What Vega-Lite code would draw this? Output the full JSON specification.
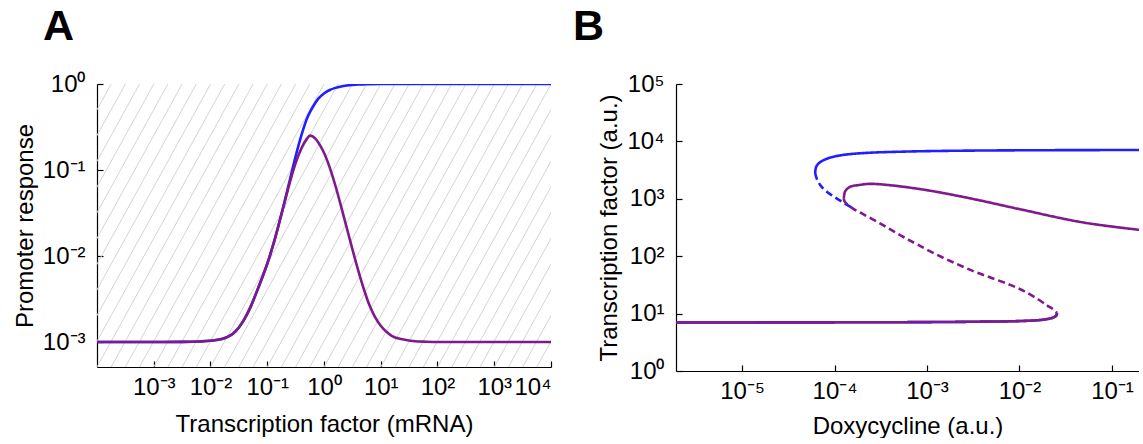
{
  "$schema": "https://vega.github.io/schema/vega-lite/v6.json",
  "background": "white",
  "padding": {"left": 13, "top": 6, "right": 0, "bottom": 0},
  "bounds": "flush",
  "spacing": 125,
  "config": {
    "view": {"stroke": null},
    "font": "Liberation Sans",
    "axis": {
      "grid": false,
      "domainColor": "#000000",
      "domainWidth": 1.2,
      "tickColor": "#000000",
      "tickWidth": 1.2,
      "tickSize": -6,
      "labelColor": "#000000",
      "labelFont": "Liberation Sans",
      "labelFontSize": 24,
      "titleColor": "#000000",
      "titleFont": "Liberation Sans",
      "titleFontSize": 24,
      "titleFontWeight": "normal"
    },
    "axisX": {"labelPadding": 14, "titlePadding": 13},
    "axisY": {"labelPadding": 18, "titlePadding": 5},
    "title": {"font": "Liberation Sans", "fontSize": 43, "fontWeight": "bold", "anchor": "start", "frame": "group", "color": "#000000"}
  },
  "datasets": {
    "hatch": [
      {"lo": 3.162e-7, "hi": 1.778e-4}, {"lo": 5.623e-7, "hi": 3.162e-4}, {"lo": 1e-6, "hi": 5.623e-4},
      {"lo": 1.778e-6, "hi": 1e-3}, {"lo": 3.162e-6, "hi": 1.778e-3}, {"lo": 5.623e-6, "hi": 3.162e-3},
      {"lo": 1e-5, "hi": 5.623e-3}, {"lo": 1.778e-5, "hi": 1e-2}, {"lo": 3.162e-5, "hi": 1.778e-2},
      {"lo": 5.623e-5, "hi": 3.162e-2}, {"lo": 1e-4, "hi": 5.623e-2}, {"lo": 1.778e-4, "hi": 0.1},
      {"lo": 3.162e-4, "hi": 0.1778}, {"lo": 5.623e-4, "hi": 0.3162}, {"lo": 1e-3, "hi": 0.5623},
      {"lo": 1.778e-3, "hi": 1}, {"lo": 3.162e-3, "hi": 1.778}, {"lo": 5.623e-3, "hi": 3.162},
      {"lo": 0.01, "hi": 5.623}, {"lo": 0.01778, "hi": 10}, {"lo": 0.03162, "hi": 17.78},
      {"lo": 0.05623, "hi": 31.62}, {"lo": 0.1, "hi": 56.23}, {"lo": 0.1778, "hi": 100},
      {"lo": 0.3162, "hi": 177.8}, {"lo": 0.5623, "hi": 316.2}, {"lo": 1, "hi": 562.3},
      {"lo": 1.778, "hi": 1000}, {"lo": 3.162, "hi": 1778}, {"lo": 5.623, "hi": 3162},
      {"lo": 10, "hi": 5623}, {"lo": 17.78, "hi": 10000}, {"lo": 31.62, "hi": 17783},
      {"lo": 56.23, "hi": 31623}, {"lo": 100, "hi": 56234}, {"lo": 177.8, "hi": 100000},
      {"lo": 316.2, "hi": 177828}, {"lo": 562.3, "hi": 316228}, {"lo": 1000, "hi": 562341},
      {"lo": 1778, "hi": 1000000}, {"lo": 3162, "hi": 1778279}, {"lo": 5623, "hi": 3162278}
    ],
    "promoter": [
      {"curve": "blue", "tf": 0.0001, "response": 0.001},
      {"curve": "blue", "tf": 0.001, "response": 0.001},
      {"curve": "blue", "tf": 0.003162, "response": 0.001005},
      {"curve": "blue", "tf": 0.00631, "response": 0.001016},
      {"curve": "blue", "tf": 0.01, "response": 0.001035},
      {"curve": "blue", "tf": 0.01585, "response": 0.001084},
      {"curve": "blue", "tf": 0.01995, "response": 0.001148},
      {"curve": "blue", "tf": 0.02512, "response": 0.001259},
      {"curve": "blue", "tf": 0.03162, "response": 0.001479},
      {"curve": "blue", "tf": 0.03981, "response": 0.001862},
      {"curve": "blue", "tf": 0.05012, "response": 0.002512},
      {"curve": "blue", "tf": 0.0631, "response": 0.003631},
      {"curve": "blue", "tf": 0.07943, "response": 0.00537},
      {"curve": "blue", "tf": 0.1, "response": 0.008128},
      {"curve": "blue", "tf": 0.1259, "response": 0.01318},
      {"curve": "blue", "tf": 0.1585, "response": 0.02291},
      {"curve": "blue", "tf": 0.1995, "response": 0.04169},
      {"curve": "blue", "tf": 0.2512, "response": 0.07762},
      {"curve": "blue", "tf": 0.3162, "response": 0.1445},
      {"curve": "blue", "tf": 0.3981, "response": 0.2512},
      {"curve": "blue", "tf": 0.5012, "response": 0.3981},
      {"curve": "blue", "tf": 0.5623, "response": 0.4677},
      {"curve": "blue", "tf": 0.631, "response": 0.537},
      {"curve": "blue", "tf": 0.7943, "response": 0.6761},
      {"curve": "blue", "tf": 1, "response": 0.7762},
      {"curve": "blue", "tf": 1.259, "response": 0.8511},
      {"curve": "blue", "tf": 1.585, "response": 0.9016},
      {"curve": "blue", "tf": 1.995, "response": 0.9376},
      {"curve": "blue", "tf": 2.512, "response": 0.9616},
      {"curve": "blue", "tf": 3.162, "response": 0.9772},
      {"curve": "blue", "tf": 3.981, "response": 0.9863},
      {"curve": "blue", "tf": 5.012, "response": 0.9908},
      {"curve": "blue", "tf": 6.31, "response": 0.9954},
      {"curve": "blue", "tf": 10, "response": 0.9988},
      {"curve": "blue", "tf": 100, "response": 1},
      {"curve": "blue", "tf": 10000, "response": 1},
      {"curve": "purple", "tf": 0.0001, "response": 0.001},
      {"curve": "purple", "tf": 0.001, "response": 0.001},
      {"curve": "purple", "tf": 0.003162, "response": 0.001005},
      {"curve": "purple", "tf": 0.00631, "response": 0.001016},
      {"curve": "purple", "tf": 0.01, "response": 0.001035},
      {"curve": "purple", "tf": 0.01585, "response": 0.001084},
      {"curve": "purple", "tf": 0.01995, "response": 0.001148},
      {"curve": "purple", "tf": 0.02512, "response": 0.001259},
      {"curve": "purple", "tf": 0.03162, "response": 0.001479},
      {"curve": "purple", "tf": 0.03981, "response": 0.001862},
      {"curve": "purple", "tf": 0.05012, "response": 0.002512},
      {"curve": "purple", "tf": 0.0631, "response": 0.003631},
      {"curve": "purple", "tf": 0.07943, "response": 0.00537},
      {"curve": "purple", "tf": 0.1, "response": 0.008128},
      {"curve": "purple", "tf": 0.1259, "response": 0.01318},
      {"curve": "purple", "tf": 0.1585, "response": 0.02291},
      {"curve": "purple", "tf": 0.1995, "response": 0.04074},
      {"curve": "purple", "tf": 0.2512, "response": 0.07244},
      {"curve": "purple", "tf": 0.3162, "response": 0.1202},
      {"curve": "purple", "tf": 0.3981, "response": 0.1778},
      {"curve": "purple", "tf": 0.5012, "response": 0.2317},
      {"curve": "purple", "tf": 0.5623, "response": 0.2512},
      {"curve": "purple", "tf": 0.631, "response": 0.2455},
      {"curve": "purple", "tf": 0.7943, "response": 0.2089},
      {"curve": "purple", "tf": 1, "response": 0.1585},
      {"curve": "purple", "tf": 1.259, "response": 0.1072},
      {"curve": "purple", "tf": 1.585, "response": 0.06607},
      {"curve": "purple", "tf": 1.995, "response": 0.03802},
      {"curve": "purple", "tf": 2.512, "response": 0.02138},
      {"curve": "purple", "tf": 3.162, "response": 0.01202},
      {"curve": "purple", "tf": 3.981, "response": 0.006918},
      {"curve": "purple", "tf": 5.012, "response": 0.004169},
      {"curve": "purple", "tf": 6.31, "response": 0.002692},
      {"curve": "purple", "tf": 7.943, "response": 0.00195},
      {"curve": "purple", "tf": 10, "response": 0.001549},
      {"curve": "purple", "tf": 12.59, "response": 0.001318},
      {"curve": "purple", "tf": 15.85, "response": 0.001175},
      {"curve": "purple", "tf": 25.12, "response": 0.001072},
      {"curve": "purple", "tf": 39.81, "response": 0.001023},
      {"curve": "purple", "tf": 63.1, "response": 0.001009},
      {"curve": "purple", "tf": 100, "response": 0.001002},
      {"curve": "purple", "tf": 10000, "response": 0.001}
    ],
    "bifurcation": [
      {"model": "blue", "branch": "upper", "stability": "stable", "dox": 6.166e-5, "tf": 2818},
      {"model": "blue", "branch": "upper", "stability": "stable", "dox": 6.31e-5, "tf": 3548},
      {"model": "blue", "branch": "upper", "stability": "stable", "dox": 6.761e-5, "tf": 4169},
      {"model": "blue", "branch": "upper", "stability": "stable", "dox": 7.762e-5, "tf": 4786},
      {"model": "blue", "branch": "upper", "stability": "stable", "dox": 9.55e-5, "tf": 5370},
      {"model": "blue", "branch": "upper", "stability": "stable", "dox": 1.318e-4, "tf": 5888},
      {"model": "blue", "branch": "upper", "stability": "stable", "dox": 2.239e-4, "tf": 6310},
      {"model": "blue", "branch": "upper", "stability": "stable", "dox": 5.012e-4, "tf": 6607},
      {"model": "blue", "branch": "upper", "stability": "stable", "dox": 1.585e-3, "tf": 6839},
      {"model": "blue", "branch": "upper", "stability": "stable", "dox": 0.01, "tf": 6998},
      {"model": "blue", "branch": "upper", "stability": "stable", "dox": 0.196, "tf": 7079},
      {"model": "blue", "branch": "middle", "stability": "unstable", "dox": 6.166e-5, "tf": 2818},
      {"model": "blue", "branch": "middle", "stability": "unstable", "dox": 6.457e-5, "tf": 2188},
      {"model": "blue", "branch": "middle", "stability": "unstable", "dox": 7.079e-5, "tf": 1698},
      {"model": "blue", "branch": "middle", "stability": "unstable", "dox": 8.318e-5, "tf": 1318},
      {"model": "blue", "branch": "middle", "stability": "unstable", "dox": 1e-4, "tf": 1072},
      {"model": "blue", "branch": "middle", "stability": "unstable", "dox": 1.175e-4, "tf": 912.0},
      {"model": "blue", "branch": "middle", "stability": "unstable", "dox": 1.349e-4, "tf": 794.3},
      {"model": "blue", "branch": "middle", "stability": "unstable", "dox": 1.585e-4, "tf": 676.1},
      {"model": "blue", "branch": "lower", "stability": "stable", "dox": 0.02541, "tf": 10.23},
      {"model": "blue", "branch": "lower", "stability": "stable", "dox": 0.02512, "tf": 9.333},
      {"model": "blue", "branch": "lower", "stability": "stable", "dox": 0.02344, "tf": 8.61},
      {"model": "blue", "branch": "lower", "stability": "stable", "dox": 0.01995, "tf": 8.035},
      {"model": "blue", "branch": "lower", "stability": "stable", "dox": 0.01585, "tf": 7.674},
      {"model": "blue", "branch": "lower", "stability": "stable", "dox": 0.01, "tf": 7.413},
      {"model": "blue", "branch": "lower", "stability": "stable", "dox": 3.162e-3, "tf": 7.211},
      {"model": "blue", "branch": "lower", "stability": "stable", "dox": 1e-3, "tf": 7.112},
      {"model": "blue", "branch": "lower", "stability": "stable", "dox": 1e-4, "tf": 7.047},
      {"model": "blue", "branch": "lower", "stability": "stable", "dox": 1.93e-6, "tf": 6.998},
      {"model": "purple", "branch": "upper", "stability": "stable", "dox": 1.259e-4, "tf": 1000},
      {"model": "purple", "branch": "upper", "stability": "stable", "dox": 1.303e-4, "tf": 1349},
      {"model": "purple", "branch": "upper", "stability": "stable", "dox": 1.479e-4, "tf": 1622},
      {"model": "purple", "branch": "upper", "stability": "stable", "dox": 1.841e-4, "tf": 1738},
      {"model": "purple", "branch": "upper", "stability": "stable", "dox": 2.399e-4, "tf": 1820},
      {"model": "purple", "branch": "upper", "stability": "stable", "dox": 3.802e-4, "tf": 1738},
      {"model": "purple", "branch": "upper", "stability": "stable", "dox": 1e-3, "tf": 1413},
      {"model": "purple", "branch": "upper", "stability": "stable", "dox": 3.09e-3, "tf": 1000},
      {"model": "purple", "branch": "upper", "stability": "stable", "dox": 0.01, "tf": 660.7},
      {"model": "purple", "branch": "upper", "stability": "stable", "dox": 0.04786, "tf": 389.0},
      {"model": "purple", "branch": "upper", "stability": "stable", "dox": 0.196, "tf": 288.4},
      {"model": "purple", "branch": "middle", "stability": "unstable", "dox": 1.259e-4, "tf": 1000},
      {"model": "purple", "branch": "middle", "stability": "unstable", "dox": 1.288e-4, "tf": 891.3},
      {"model": "purple", "branch": "middle", "stability": "unstable", "dox": 1.38e-4, "tf": 794.3},
      {"model": "purple", "branch": "middle", "stability": "unstable", "dox": 1.585e-4, "tf": 676.1},
      {"model": "purple", "branch": "middle", "stability": "unstable", "dox": 1.995e-4, "tf": 549.5},
      {"model": "purple", "branch": "middle", "stability": "unstable", "dox": 2.818e-4, "tf": 407.4},
      {"model": "purple", "branch": "middle", "stability": "unstable", "dox": 3.981e-4, "tf": 295.1},
      {"model": "purple", "branch": "middle", "stability": "unstable", "dox": 5.623e-4, "tf": 213.8},
      {"model": "purple", "branch": "middle", "stability": "unstable", "dox": 7.943e-4, "tf": 158.5},
      {"model": "purple", "branch": "middle", "stability": "unstable", "dox": 1.259e-3, "tf": 107.2},
      {"model": "purple", "branch": "middle", "stability": "unstable", "dox": 1.995e-3, "tf": 75.86},
      {"model": "purple", "branch": "middle", "stability": "unstable", "dox": 3.162e-3, "tf": 54.95},
      {"model": "purple", "branch": "middle", "stability": "unstable", "dox": 5.012e-3, "tf": 41.69},
      {"model": "purple", "branch": "middle", "stability": "unstable", "dox": 7.943e-3, "tf": 31.62},
      {"model": "purple", "branch": "middle", "stability": "unstable", "dox": 0.01122, "tf": 24.55},
      {"model": "purple", "branch": "middle", "stability": "unstable", "dox": 0.01585, "tf": 17.78},
      {"model": "purple", "branch": "middle", "stability": "unstable", "dox": 0.01995, "tf": 13.8},
      {"model": "purple", "branch": "middle", "stability": "unstable", "dox": 0.02291, "tf": 12.02},
      {"model": "purple", "branch": "middle", "stability": "unstable", "dox": 0.02455, "tf": 10.96},
      {"model": "purple", "branch": "middle", "stability": "unstable", "dox": 0.02541, "tf": 10.23},
      {"model": "purple", "branch": "lower", "stability": "stable", "dox": 0.02541, "tf": 10.23},
      {"model": "purple", "branch": "lower", "stability": "stable", "dox": 0.02512, "tf": 9.333},
      {"model": "purple", "branch": "lower", "stability": "stable", "dox": 0.02344, "tf": 8.61},
      {"model": "purple", "branch": "lower", "stability": "stable", "dox": 0.01995, "tf": 8.035},
      {"model": "purple", "branch": "lower", "stability": "stable", "dox": 0.01585, "tf": 7.674},
      {"model": "purple", "branch": "lower", "stability": "stable", "dox": 0.01, "tf": 7.413},
      {"model": "purple", "branch": "lower", "stability": "stable", "dox": 3.162e-3, "tf": 7.211},
      {"model": "purple", "branch": "lower", "stability": "stable", "dox": 1e-3, "tf": 7.112},
      {"model": "purple", "branch": "lower", "stability": "stable", "dox": 1e-4, "tf": 7.047},
      {"model": "purple", "branch": "lower", "stability": "stable", "dox": 1.93e-6, "tf": 6.998}
    ]
  },
  "hconcat": [
    {
      "width": 454,
      "height": 283,
      "title": {"text": "A", "dx": -54, "offset": 23},
      "layer": [
        {
          "data": {"name": "hatch"},
          "mark": {"type": "rule", "clip": true, "color": "#d4d4d4", "strokeWidth": 1},
          "encoding": {
            "x": {"field": "lo", "type": "quantitative", "scale": {"type": "log", "domain": [0.0001, 10000]},
                  "axis": {"title": "Transcription factor (mRNA)", "values": [0.001, 0.01, 0.1, 1, 10, 100, 1000, 10000],
                           "labelExpr": "'10' + replace(replace(replace(replace(replace(replace(replace(toString(round(log(datum.value)/LN10)),'-','⁻'),'0','⁰'),'1','¹'),'2','²'),'3','³'),'4','⁴'),'5','⁵')"}},
            "x2": {"field": "hi"},
            "y": {"datum": 0.000513, "type": "quantitative", "scale": {"type": "log", "domain": [0.000513, 1]},
                  "axis": {"title": "Promoter response", "values": [0.001, 0.01, 0.1, 1],
                           "labelExpr": "'10' + replace(replace(replace(replace(replace(replace(replace(toString(round(log(datum.value)/LN10)),'-','⁻'),'0','⁰'),'1','¹'),'2','²'),'3','³'),'4','⁴'),'5','⁵')"}},
            "y2": {"datum": 1}
          }
        },
        {
          "data": {"name": "promoter"},
          "mark": {"type": "line", "interpolate": "monotone", "strokeWidth": 2.6, "clip": true},
          "encoding": {
            "x": {"field": "tf", "type": "quantitative", "scale": {"type": "log", "domain": [0.0001, 10000]},
                  "axis": {"title": "Transcription factor (mRNA)", "values": [0.001, 0.01, 0.1, 1, 10, 100, 1000, 10000],
                           "labelExpr": "'10' + replace(replace(replace(replace(replace(replace(replace(toString(round(log(datum.value)/LN10)),'-','⁻'),'0','⁰'),'1','¹'),'2','²'),'3','³'),'4','⁴'),'5','⁵')"}},
            "y": {"field": "response", "type": "quantitative", "scale": {"type": "log", "domain": [0.000513, 1]},
                  "axis": {"title": "Promoter response", "values": [0.001, 0.01, 0.1, 1],
                           "labelExpr": "'10' + replace(replace(replace(replace(replace(replace(replace(toString(round(log(datum.value)/LN10)),'-','⁻'),'0','⁰'),'1','¹'),'2','²'),'3','³'),'4','⁴'),'5','⁵')"}},
            "color": {"field": "curve", "type": "nominal", "scale": {"domain": ["blue", "purple"], "range": ["#1f1fff", "#7f1a8c"]}, "legend": null}
          }
        }
      ]
    },
    {
      "width": 463,
      "height": 287,
      "title": {"text": "B", "dx": -103, "offset": 23},
      "data": {"name": "bifurcation"},
      "layer": [
        {
          "transform": [{"filter": "datum.model === 'blue'"}],
          "mark": {"type": "line", "interpolate": "catmull-rom", "strokeWidth": 2.6, "clip": true},
          "encoding": {
            "x": {"field": "dox", "type": "quantitative", "scale": {"type": "log", "domain": [1.93e-6, 0.196]},
                  "axis": {"title": "Doxycycline (a.u.)", "titlePadding": 11, "values": [0.00001, 0.0001, 0.001, 0.01, 0.1],
                           "labelExpr": "'10' + replace(replace(replace(replace(replace(replace(replace(toString(round(log(datum.value)/LN10)),'-','⁻'),'0','⁰'),'1','¹'),'2','²'),'3','³'),'4','⁴'),'5','⁵')"}},
            "y": {"field": "tf", "type": "quantitative", "scale": {"type": "log", "domain": [1, 100000]},
                  "axis": {"title": "Transcription factor (a.u.)", "values": [1, 10, 100, 1000, 10000, 100000],
                           "labelExpr": "'10' + replace(replace(replace(replace(replace(replace(replace(toString(round(log(datum.value)/LN10)),'-','⁻'),'0','⁰'),'1','¹'),'2','²'),'3','³'),'4','⁴'),'5','⁵')"}},
            "color": {"field": "model", "type": "nominal", "scale": {"domain": ["blue", "purple"], "range": ["#1f1fff", "#7f1a8c"]}, "legend": null},
            "strokeDash": {"field": "stability", "type": "nominal", "scale": {"domain": ["stable", "unstable"], "range": [[1, 0], [7, 4]]}, "legend": null},
            "detail": {"field": "branch", "type": "nominal"},
            "order": {"value": null}
          }
        },
        {
          "transform": [{"filter": "datum.model === 'purple'"}],
          "mark": {"type": "line", "interpolate": "catmull-rom", "strokeWidth": 2.6, "clip": true},
          "encoding": {
            "x": {"field": "dox", "type": "quantitative", "scale": {"type": "log", "domain": [1.93e-6, 0.196]}},
            "y": {"field": "tf", "type": "quantitative", "scale": {"type": "log", "domain": [1, 100000]}},
            "color": {"field": "model", "type": "nominal", "scale": {"domain": ["blue", "purple"], "range": ["#1f1fff", "#7f1a8c"]}, "legend": null},
            "strokeDash": {"field": "stability", "type": "nominal", "scale": {"domain": ["stable", "unstable"], "range": [[1, 0], [7, 4]]}, "legend": null},
            "detail": {"field": "branch", "type": "nominal"},
            "order": {"value": null}
          }
        }
      ]
    }
  ]
}
